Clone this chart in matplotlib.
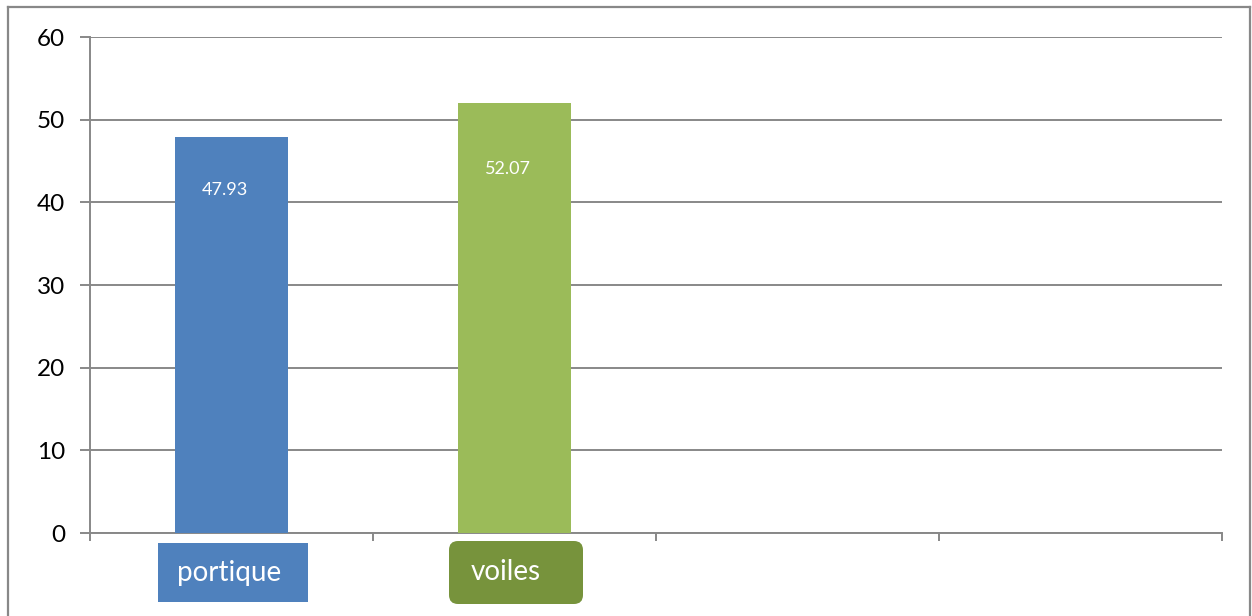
import matplotlib.pyplot as plt
import matplotlib.patches as mpatches
from matplotlib.lines import Line2D
from matplotlib.transforms import IdentityTransform

# data
categories = ["portique", "voiles"]
values = [47.93, 52.07]
n_slots = 4
yticks = [0, 10, 20, 30, 40, 50, 60]

bar_colors = ["#4F81BD", "#9BBB59"]
box_colors = ["#4F81BD", "#77933C"]
grid_color = "#888888"

plt.rcParams['font.family'] = ['Lato', 'DejaVu Sans']

W, H = 1252, 616
fig = plt.figure(figsize=(W / 100, H / 100), dpi=100)
ax = fig.add_axes([90 / W, 83 / H, 1132 / W, 496 / H])

x = list(range(len(categories)))
bars = ax.bar(x, values, width=0.4, color=bar_colors, zorder=3)

# value labels inside the bars, below the top edge (pixels)
label_drop = [53, 66]
for b, v, d in zip(bars, values, label_drop):
    ax.annotate(f"{v:.2f}", (b.get_x() + b.get_width() / 2, v),
                xytext=(-5, -d * 0.72), textcoords="offset points",
                ha="center", va="center", color="white", fontsize=13, zorder=4)

ax.set_xlim(-0.5, n_slots - 0.5)
ax.set_ylim(0, 60)
ax.set_yticks(yticks)
ax.set_xticks([i - 0.5 for i in range(n_slots + 1)])
ax.set_xticklabels([])
ax.yaxis.grid(True, color=grid_color, linewidth=1.4, zorder=0)
ax.tick_params(axis="y", length=7, width=1.4, color=grid_color, labelsize=17.5, pad=11)
ax.tick_params(axis="x", length=6, width=1.4, color=grid_color)
for side in ["top", "right"]:
    ax.spines[side].set_visible(False)
for side in ["left", "bottom"]:
    ax.spines[side].set_color(grid_color)
    ax.spines[side].set_linewidth(1.4)

# category labels drawn as coloured boxes under the axis
fig.canvas.draw()
box_sizes = [(150, 59), (134, 63)]
box_gaps = [10, 8]
text_shift = [-4, -10]
styles = ["square,pad=0", "round,pad=0,rounding_size=9"]
for i, (name, col, st) in enumerate(zip(categories, box_colors, styles)):
    cx, _ = ax.transData.transform((i, 0))
    cx += 1.5
    bw, bh = box_sizes[i]
    top = 83 - box_gaps[i]
    patch = mpatches.FancyBboxPatch((cx - bw / 2, top - bh), bw, bh,
                                    boxstyle=st, facecolor=col, edgecolor="none",
                                    transform=IdentityTransform())
    fig.patches.append(patch)
    fig.text((cx + text_shift[i]) / W, (top - bh / 2) / H, name, color="white",
             fontsize=20, ha="center", va="center")

# outer frame of the chart area
frame = dict(color=grid_color, linewidth=1.6, transform=fig.transFigure)
fig.lines.append(Line2D([8 / W, 8 / W], [-0.1, 1 - 7 / H], **frame))
fig.lines.append(Line2D([8 / W, 1250 / W], [1 - 7 / H, 1 - 7 / H], **frame))
fig.lines.append(Line2D([1250 / W, 1250 / W], [-0.1, 1 - 7 / H], **frame))

fig.savefig("out.png", dpi=100)
